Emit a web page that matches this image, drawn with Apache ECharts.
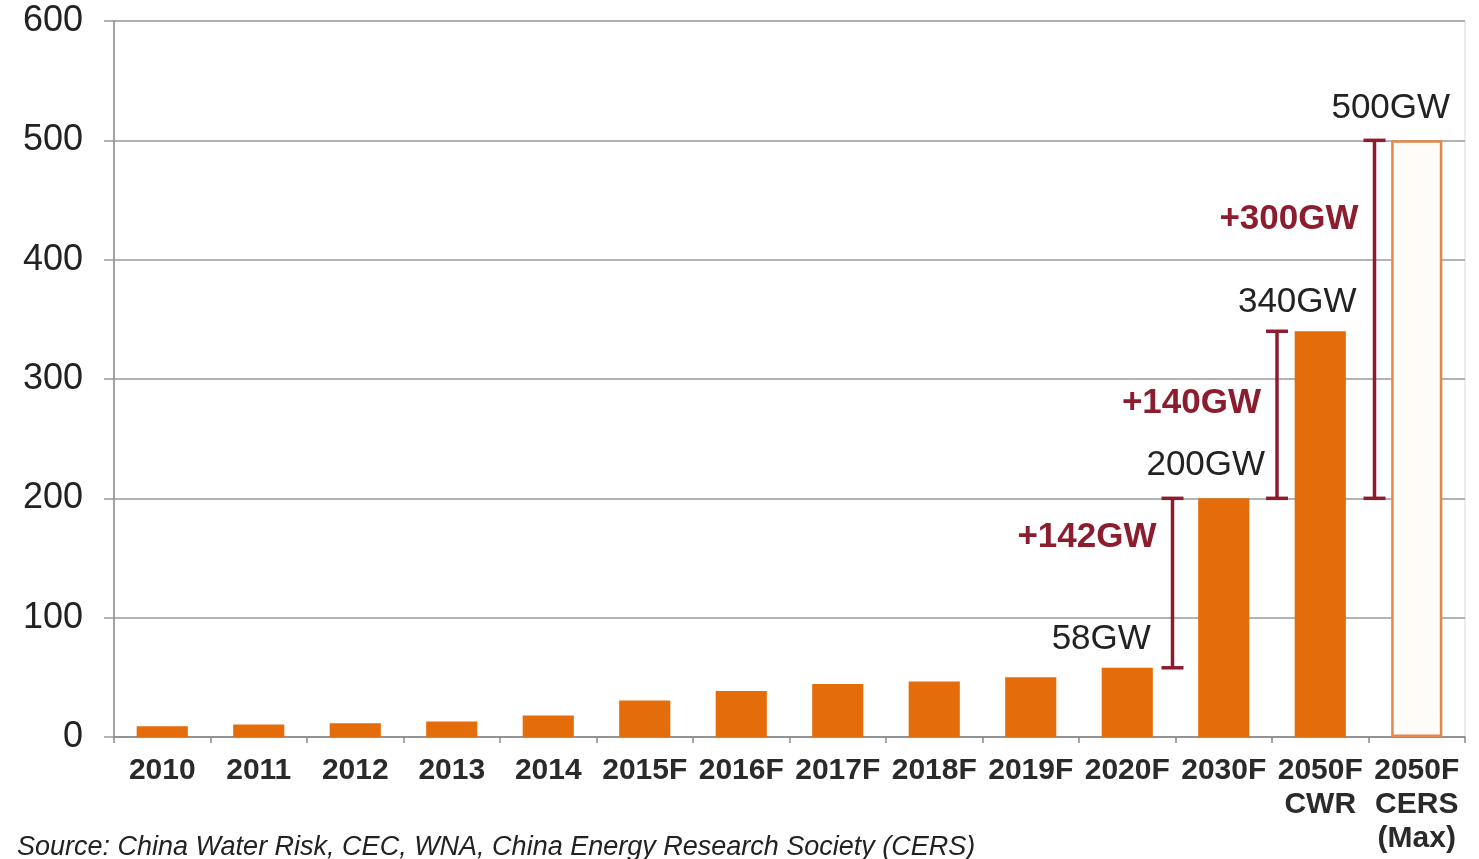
<!DOCTYPE html>
<html>
<head>
<meta charset="utf-8">
<script src="https://cdn.jsdelivr.net/npm/echarts@6/dist/echarts.min.js"></script>
<style>
  html, body { margin: 0; padding: 0; background: #fff; }
  #chart { width: 1479px; height: 859px; }
</style>
</head>
<body>
<div id="chart"></div>
<script>
// ---- data ----
const categories = ['2010', '2011', '2012', '2013', '2014', '2015F', '2016F', '2017F', '2018F', '2019F', '2020F', '2030F', '2050F\nCWR', '2050F\nCERS\n(Max)'];
const capacityGW = [9, 10.5, 11.5, 13, 18, 30.5, 38.5, 44.5, 46.5, 50, 58, 200, 340, 500];
const barLabels = ['', '', '', '', '', '', '', '', '', '', '58GW', '200GW', '340GW', '500GW'];
const yTicks = [0, 100, 200, 300, 400, 500, 600];
const stepAfterCategory = [10, 11, 12];
const stepFrom = [58, 200, 200];
const stepTo = [200, 340, 500];
const stepLabels = ['+142GW', '+140GW', '+300GW'];
const sourceNote = 'Source: China Water Risk, CEC, WNA, China Energy Research Society (CERS)';

// ---- styling ----
const FONT = '"Liberation Sans", Arial, sans-serif';
const ORANGE = '#e46c0a';
const MAROON = '#8c1d2e';
const labelOffsets = { 10: [-26, -6], 11: [-18, -10], 12: [-23, -6], 13: [-26, -9] };
const stepDx = [-3, 5, 6];
const stepLabelFrac = [0.77, 0.57, 0.78];

const barData = capacityGW.map((v, i) => {
  const item = { value: v };
  if (labelOffsets[i]) item.label = { offset: labelOffsets[i] };
  if (i === capacityGW.length - 1) {
    item.itemStyle = { color: '#fffcf8', borderColor: '#e3884a', borderWidth: 2.5 };
  }
  return item;
});

const stepData = stepAfterCategory.map((c, i) => [c, stepFrom[i], stepTo[i]]);

const chart = echarts.init(document.getElementById('chart'), null, { renderer: 'canvas' });
chart.setOption({
  animation: false,
  backgroundColor: '#ffffff',
  grid: { left: 114, right: 14, top: 21, bottom: 122, show: true, borderColor: '#d4d4e0', borderWidth: 1, backgroundColor: 'transparent' },
  xAxis: {
    type: 'category',
    data: categories,
    axisLine: { lineStyle: { color: '#8a8a8a', width: 1.5 } },
    axisTick: { show: true, length: 6, lineStyle: { color: '#8a8a8a', width: 1.5 } },
    axisLabel: { color: '#2a2a2a', fontFamily: FONT, fontSize: 30, fontWeight: 'bold', lineHeight: 34, margin: 17, interval: 0 }
  },
  yAxis: {
    type: 'value',
    min: yTicks[0],
    max: yTicks[yTicks.length - 1],
    interval: yTicks[1] - yTicks[0],
    axisLine: { show: true, lineStyle: { color: '#8a8a8a', width: 1.5 } },
    axisTick: { show: true, length: 10, lineStyle: { color: '#9a9a9a', width: 1.5 } },
    splitLine: { lineStyle: { color: '#9a9a9a', width: 1.5 } },
    axisLabel: { color: '#222', fontFamily: FONT, fontSize: 36, margin: 31 }
  },
  series: [
    {
      type: 'bar',
      data: barData,
      barWidth: '53%',
      itemStyle: { color: ORANGE },
      label: {
        show: true,
        position: 'top',
        formatter: p => barLabels[p.dataIndex],
        color: '#222',
        fontFamily: FONT,
        fontSize: 35
      },
      z: 2
    },
    {
      type: 'custom',
      data: stepData,
      encode: { x: 0, y: [1, 2] },
      z: 5,
      renderItem: function (params, api) {
        const i = params.dataIndex;
        const idx = api.value(0);
        const lo = api.value(1);
        const hi = api.value(2);
        const bw = api.size([1, 0])[0];
        const pLo = api.coord([idx, lo]);
        const pHi = api.coord([idx, hi]);
        const x = pLo[0] + bw / 2 + stepDx[i];
        const cap = 11;
        const ls = { stroke: MAROON, lineWidth: 3.5 };
        const ty = pLo[1] + (pHi[1] - pLo[1]) * stepLabelFrac[i];
        return {
          type: 'group',
          children: [
            { type: 'line', shape: { x1: x, y1: pLo[1], x2: x, y2: pHi[1] }, style: ls },
            { type: 'line', shape: { x1: x - cap, y1: pLo[1], x2: x + cap, y2: pLo[1] }, style: ls },
            { type: 'line', shape: { x1: x - cap, y1: pHi[1], x2: x + cap, y2: pHi[1] }, style: ls },
            {
              type: 'text',
              style: {
                text: stepLabels[i],
                x: x - 16,
                y: ty,
                align: 'right',
                verticalAlign: 'middle',
                fill: MAROON,
                font: 'bold 35px ' + FONT
              }
            }
          ]
        };
      }
    }
  ],
  graphic: [
    {
      type: 'text',
      left: 17,
      top: 834,
      style: { text: sourceNote, fill: '#222', font: 'italic 27px ' + FONT }
    }
  ]
});
</script>
</body>
</html>
